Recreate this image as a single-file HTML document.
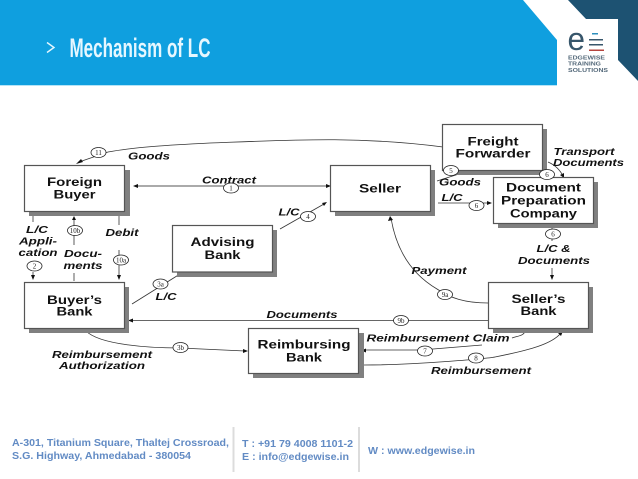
<!DOCTYPE html>
<html>
<head>
<meta charset="utf-8">
<style>
html,body{margin:0;padding:0;background:#fff;width:638px;height:479px;overflow:hidden}
svg{display:block}
text{font-family:"Liberation Sans",sans-serif}
.b{font-size:11.5px;font-weight:bold;fill:#111;text-anchor:middle}
.l{font-size:10px;font-weight:bold;font-style:italic;fill:#111;text-anchor:middle}
.n{font-family:"Liberation Serif",serif;font-size:7px;fill:#222;text-anchor:middle}
.f{font-size:10.5px;font-weight:bold;fill:#628bc4}
.c{fill:none;stroke:#333;stroke-width:.8}
.g{fill:none;stroke:#777;stroke-width:1.2}
.o{fill:#fff;stroke:#222;stroke-width:.8}
.a{fill:#111}
.r{fill:#fff;stroke:#555;stroke-width:1.2}
.s{fill:#808080}
</style>
</head>
<body>
<svg width="638" height="479" viewBox="0 0 638 479" xmlns="http://www.w3.org/2000/svg">
<rect width="638" height="479" fill="#fff"/>
<polygon points="0,0 523,0 557,40 557,85 0,85" fill="#0f9fdf"/>
<polygon points="568,0 638,0 638,81 618,60 618,19 586,19" fill="#1d5272"/>
<rect x="0" y="85" width="557" height="1" fill="#b5e4f7"/>
<path d="M47 42.5 L54 47.5 L47 52.5" fill="none" stroke="#e6f7ff" stroke-width="1.4"/>
<text x="69.500" y="57" font-size="26.500" font-weight="bold" fill="#e6f7ff" textLength="141" lengthAdjust="spacingAndGlyphs">Mechanism of LC</text>

<!-- logo -->
<text x="567.500" y="50" font-size="32" fill="#37566b" textLength="17.500" lengthAdjust="spacingAndGlyphs">e</text>
<rect x="592" y="33" width="6" height="1.500" fill="#2d8fbd"/>
<rect x="589" y="39" width="14" height="1.500" fill="#37566b"/>
<rect x="589" y="44" width="14" height="1.500" fill="#37566b"/>
<rect x="589" y="49.500" width="15" height="1.500" fill="#b5443e"/>
<g font-size="5.800" font-weight="bold" fill="#54697a">
<text x="568" y="59.500" textLength="37" lengthAdjust="spacingAndGlyphs">EDGEWISE</text>
<text x="568" y="65.500" textLength="33" lengthAdjust="spacingAndGlyphs">TRAINING</text>
<text x="568" y="72" textLength="40" lengthAdjust="spacingAndGlyphs">SOLUTIONS</text>
</g>

<!-- connectors under boxes -->
<path class="c" d="M443 147 C360 136 290 140 210 143 C170 145 135 147 108 152 L79 162"/>
<polygon class="a" points="76,164 81,159 83,162"/>
<path class="g" d="M136 186 H326"/>
<polygon class="a" points="133,186 138,184 138,188"/>
<polygon class="a" points="326,184 326,188 331,186"/>
<path class="c" d="M280 229 L324 204"/>
<polygon class="a" points="327,202 322,203 324,206"/>
<path class="c" d="M33 216 V222"/>
<path class="c" d="M33 272 V278"/>
<polygon class="a" points="33,280 31,275 35,275"/>
<path class="c" d="M74 218 V245"/>
<polygon class="a" points="74,216 72,220 76,220"/>
<path class="c" d="M74 273 V281"/>
<path class="c" d="M119 216 V225 M119 250 V278"/>
<polygon class="a" points="119,280 117,275 121,275"/>
<path class="c" d="M132 304 L180 274"/>
<polygon class="a" points="184,272 178,272 180,276"/>
<path class="c" d="M129 320.500 H488"/>
<polygon class="a" points="128,320.500 133,318.500 133,322.500"/>
<path class="c" d="M86 331 C100 345 150 348 180 348 C205 349 225 350 245 351"/>
<polygon class="a" points="248,351 243,349 243,353"/>
<path class="c" d="M488 303 C465 303 450 298 437 289 C420 279 398 260 391 218"/>
<polygon class="a" points="390,216 388,221 393,220"/>
<path class="c" d="M421 350 H364"/>
<polygon class="a" points="361,350.500 366,348.500 366,352.500"/>
<path class="c" d="M421 350 L482 345"/>
<path class="c" d="M512 338 C517 336 524 336 525 331"/>
<path class="c" d="M364 365 C420 365 490 358 495 357 C530 350 552 344 561 333"/>
<polygon class="a" points="563,331 558,333 561,336"/>
<path class="c" d="M437 181 L462 173"/>
<polygon class="a" points="464,172 459,172 460,175"/>
<path class="c" d="M438 203 H490"/>
<polygon class="a" points="492,203 487,201 487,205"/>
<path class="c" d="M548 162 C555 165 560 170 563 176"/>
<polygon class="a" points="564,178 560,175 564,173"/>
<path class="c" d="M552 268 V277"/>
<polygon class="a" points="552,280 550,275 554,275"/>
<path class="c" d="M552 224 V229 M552 238 V241"/>

<!-- boxes -->
<rect class="s" x="29" y="170" width="101" height="46"/><rect class="r" x="24.500" y="165.500" width="100" height="46"/>
<rect class="s" x="335" y="170" width="100" height="46"/><rect class="r" x="330.500" y="165.500" width="100" height="46"/>
<rect class="s" x="447" y="129" width="100" height="46"/><rect class="r" x="442.500" y="124.500" width="100" height="46"/>
<rect class="s" x="498" y="182" width="100" height="46"/><rect class="r" x="493.500" y="177.500" width="100" height="46"/>
<rect class="s" x="177" y="230" width="100" height="47"/><rect class="r" x="172.500" y="225.500" width="100" height="46.500"/>
<rect class="s" x="29" y="287" width="100" height="46"/><rect class="r" x="24.500" y="282.500" width="100" height="46"/>
<rect class="s" x="493" y="287" width="100" height="46"/><rect class="r" x="488.500" y="282.500" width="100" height="46"/>
<rect class="s" x="253" y="333" width="111" height="45"/><rect class="r" x="248.500" y="328.500" width="110" height="45"/>

<!-- box labels -->
<g lengthAdjust="spacingAndGlyphs">
<text class="b" x="74.500" y="186" textLength="55" lengthAdjust="spacingAndGlyphs">Foreign</text>
<text class="b" x="74.500" y="198.500" textLength="42" lengthAdjust="spacingAndGlyphs">Buyer</text>
<text class="b" x="380" y="192.500" textLength="42" lengthAdjust="spacingAndGlyphs">Seller</text>
<text class="b" x="493" y="145.500" textLength="51" lengthAdjust="spacingAndGlyphs">Freight</text>
<text class="b" x="493" y="157.500" textLength="75" lengthAdjust="spacingAndGlyphs">Forwarder</text>
<text class="b" x="543.500" y="191.500" textLength="75" lengthAdjust="spacingAndGlyphs">Document</text>
<text class="b" x="543.500" y="204.500" textLength="85" lengthAdjust="spacingAndGlyphs">Preparation</text>
<text class="b" x="543.500" y="217.500" textLength="67" lengthAdjust="spacingAndGlyphs">Company</text>
<text class="b" x="222.500" y="246" textLength="64" lengthAdjust="spacingAndGlyphs">Advising</text>
<text class="b" x="222.500" y="259" textLength="36" lengthAdjust="spacingAndGlyphs">Bank</text>
<text class="b" x="74.500" y="304" textLength="55" lengthAdjust="spacingAndGlyphs">Buyer’s</text>
<text class="b" x="74.500" y="315.500" textLength="36" lengthAdjust="spacingAndGlyphs">Bank</text>
<text class="b" x="538.500" y="303" textLength="54" lengthAdjust="spacingAndGlyphs">Seller’s</text>
<text class="b" x="538.500" y="315" textLength="36" lengthAdjust="spacingAndGlyphs">Bank</text>
<text class="b" x="304" y="348.500" textLength="93" lengthAdjust="spacingAndGlyphs">Reimbursing</text>
<text class="b" x="304" y="361.500" textLength="36" lengthAdjust="spacingAndGlyphs">Bank</text>
</g>

<!-- italic labels -->
<text class="l" x="149" y="159.500" textLength="42" lengthAdjust="spacingAndGlyphs">Goods</text>
<text class="l" x="229" y="183.500" textLength="54" lengthAdjust="spacingAndGlyphs">Contract</text>
<text class="l" x="289" y="215.500" textLength="21" lengthAdjust="spacingAndGlyphs">L/C</text>
<text class="l" x="37" y="233" textLength="22" lengthAdjust="spacingAndGlyphs">L/C</text>
<text class="l" x="38" y="244.500" textLength="38" lengthAdjust="spacingAndGlyphs">Appli-</text>
<text class="l" x="38" y="256" textLength="39" lengthAdjust="spacingAndGlyphs">cation</text>
<text class="l" x="83" y="257" textLength="38" lengthAdjust="spacingAndGlyphs">Docu-</text>
<text class="l" x="83" y="269" textLength="39" lengthAdjust="spacingAndGlyphs">ments</text>
<text class="l" x="122" y="236" textLength="33" lengthAdjust="spacingAndGlyphs">Debit</text>
<text class="l" x="166" y="300" textLength="21" lengthAdjust="spacingAndGlyphs">L/C</text>
<text class="l" x="102" y="358" textLength="100" lengthAdjust="spacingAndGlyphs">Reimbursement</text>
<text class="l" x="102" y="369" textLength="86" lengthAdjust="spacingAndGlyphs">Authorization</text>
<text class="l" x="302" y="318" textLength="71" lengthAdjust="spacingAndGlyphs">Documents</text>
<text class="l" x="439" y="274" textLength="55" lengthAdjust="spacingAndGlyphs">Payment</text>
<text class="l" x="438" y="341.500" textLength="143" lengthAdjust="spacingAndGlyphs">Reimbursement Claim</text>
<text class="l" x="481" y="374" textLength="100" lengthAdjust="spacingAndGlyphs">Reimbursement</text>
<text class="l" x="460" y="185.500" textLength="42" lengthAdjust="spacingAndGlyphs">Goods</text>
<text class="l" x="452" y="201" textLength="21" lengthAdjust="spacingAndGlyphs">L/C</text>
<text class="l" x="584" y="155" textLength="61" lengthAdjust="spacingAndGlyphs">Transport</text>
<text class="l" x="588.500" y="166" textLength="71" lengthAdjust="spacingAndGlyphs">Documents</text>
<text class="l" x="553.500" y="252" textLength="34" lengthAdjust="spacingAndGlyphs">L/C &amp;</text>
<text class="l" x="554" y="264" textLength="72" lengthAdjust="spacingAndGlyphs">Documents</text>

<!-- number ovals -->
<g>
<ellipse class="o" cx="98.500" cy="152.500" rx="7.500" ry="5"/><text class="n" x="98.500" y="155">11</text>
<ellipse class="o" cx="231" cy="188" rx="7.500" ry="5"/><text class="n" x="231" y="190.500">1</text>
<ellipse class="o" cx="308" cy="216.500" rx="7.500" ry="5"/><text class="n" x="308" y="219">4</text>
<ellipse class="o" cx="75" cy="230.500" rx="7.500" ry="5"/><text class="n" x="75" y="233">10b</text>
<ellipse class="o" cx="34.500" cy="266" rx="7.500" ry="5"/><text class="n" x="34.500" y="268.500">2</text>
<ellipse class="o" cx="121" cy="260" rx="7.500" ry="5"/><text class="n" x="121" y="262.500">10a</text>
<ellipse class="o" cx="160.500" cy="284" rx="7.500" ry="5"/><text class="n" x="160.500" y="286.500">3a</text>
<ellipse class="o" cx="180.500" cy="347.500" rx="7.500" ry="5"/><text class="n" x="180.500" y="350">3b</text>
<ellipse class="o" cx="401" cy="320.500" rx="7.500" ry="5"/><text class="n" x="401" y="323">9b</text>
<ellipse class="o" cx="445" cy="294.500" rx="7.500" ry="5"/><text class="n" x="445" y="297">9a</text>
<ellipse class="o" cx="425" cy="351" rx="7.500" ry="5"/><text class="n" x="425" y="353.500">7</text>
<ellipse class="o" cx="476" cy="358" rx="7.500" ry="5"/><text class="n" x="476" y="360.500">8</text>
<ellipse class="o" cx="451" cy="170.500" rx="7.500" ry="5"/><text class="n" x="451" y="173">5</text>
<ellipse class="o" cx="476.500" cy="205.500" rx="7.500" ry="5"/><text class="n" x="476.500" y="208">6</text>
<ellipse class="o" cx="547" cy="174.500" rx="7.500" ry="5"/><text class="n" x="547" y="177">6</text>
<ellipse class="o" cx="553" cy="234" rx="7.500" ry="5"/><text class="n" x="553" y="236.500">6</text>
</g>

<!-- footer -->
<rect x="232.500" y="427" width="2" height="45" fill="#dcdcdc"/>
<rect x="358" y="427" width="2" height="45" fill="#dcdcdc"/>
<text class="f" x="12" y="446" textLength="217" lengthAdjust="spacingAndGlyphs">A-301, Titanium Square, Thaltej Crossroad,</text>
<text class="f" x="12" y="459" textLength="179" lengthAdjust="spacingAndGlyphs">S.G. Highway, Ahmedabad - 380054</text>
<text class="f" x="242" y="447" textLength="111" lengthAdjust="spacingAndGlyphs">T : +91 79 4008 1101-2</text>
<text class="f" x="242" y="460" textLength="107" lengthAdjust="spacingAndGlyphs">E : info@edgewise.in</text>
<text class="f" x="368" y="454" textLength="107" lengthAdjust="spacingAndGlyphs">W : www.edgewise.in</text>
</svg>
</body>
</html>
